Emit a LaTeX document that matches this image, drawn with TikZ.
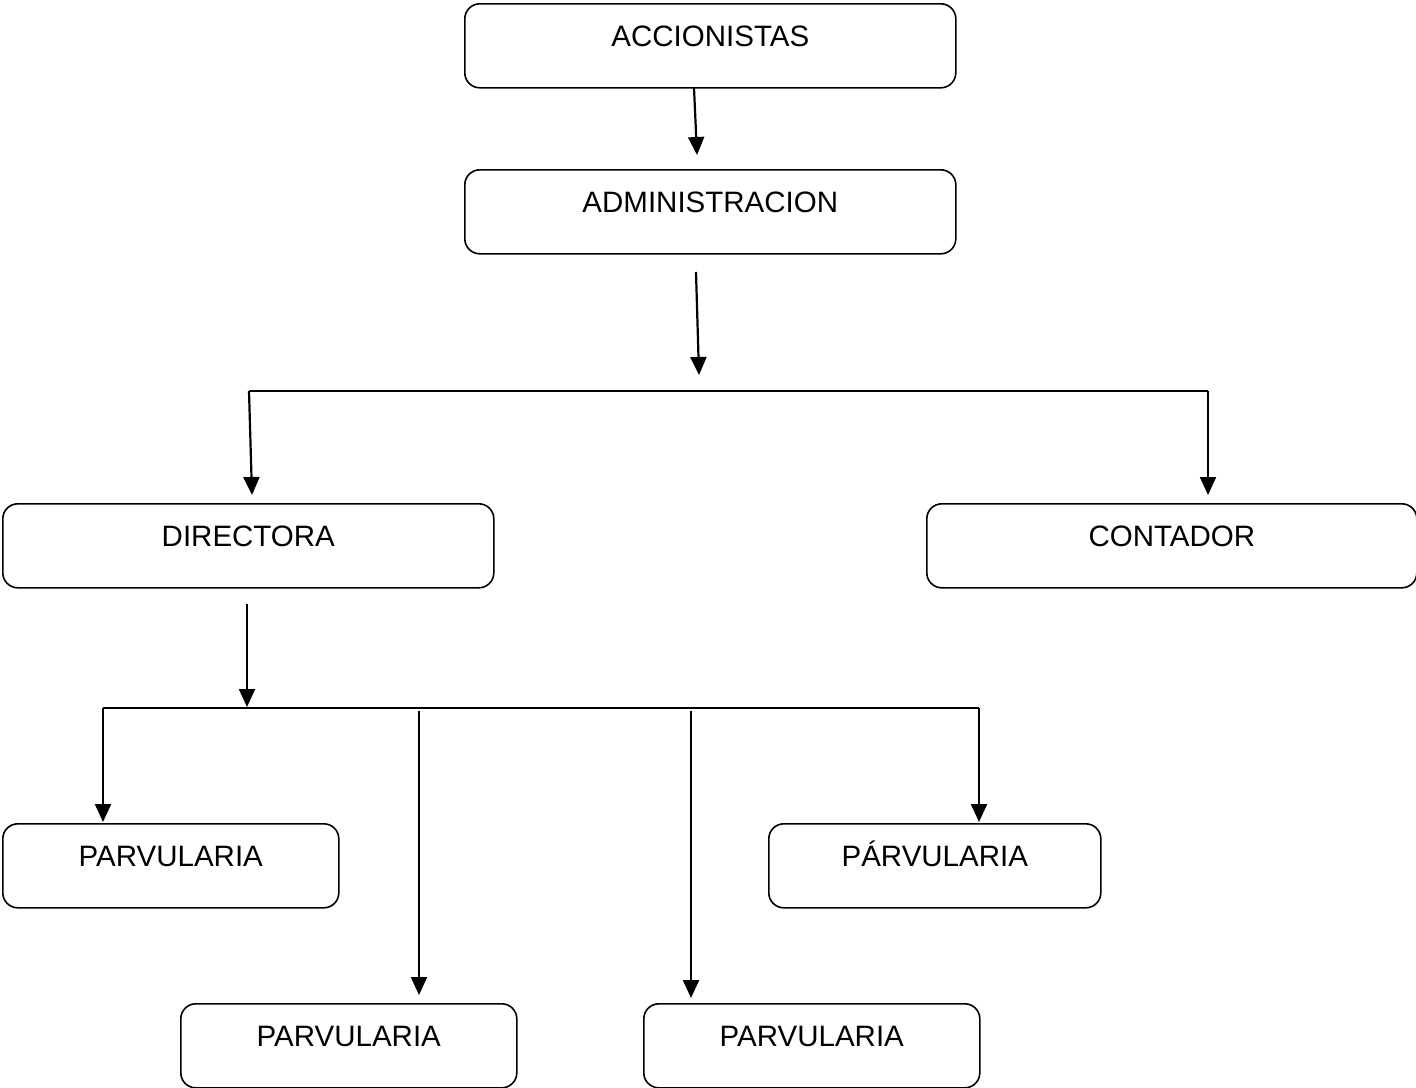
\documentclass[tikz,border=0pt]{standalone}
\usepackage{fontspec}
\setmainfont{Liberation Sans}
\usetikzlibrary{arrows.meta}
\begin{document}
\begin{tikzpicture}[x=1pt,y=-1pt,
  box/.style={draw, line width=1.6pt, rounded corners=15pt, anchor=north west,
    inner xsep=0pt, inner ysep=0pt, text height=43pt, text depth=41pt,
    align=center, font=\fontsize{29.5}{35}\selectfont},
  arr/.style={line width=2.2pt, -{Triangle[width=16pt,length=18pt]}},
  ln/.style={line width=2pt}]
\useasboundingbox (0,0) rectangle (1416,1087);
\node[box, minimum width=491pt] (acc) at (464,3) {ACCIONISTAS};
\node[box, minimum width=491pt] (adm) at (464,169) {ADMINISTRACION};
\node[box, minimum width=491pt] (dir) at (2,503) {DIRECTORA};
\node[box, minimum width=490pt] (con) at (926,503) {CONTADOR};
\node[box, minimum width=336pt] (p1) at (2,823) {PARVULARIA};
\node[box, minimum width=336pt] (p2) at (180,1003) {PARVULARIA};
\node[box, minimum width=336pt] (p3) at (643,1003) {PARVULARIA};
\node[box, minimum width=332pt] (p4) at (768,823) {PÁRVULARIA};
% connector points
\coordinate (a1s) at (694,88);  \coordinate (a1e) at (697,155);
\coordinate (a2s) at (696,272); \coordinate (a2e) at (699,375);
\coordinate (h1l) at (249,391); \coordinate (h1r) at (1208,391);
\coordinate (dirin) at (252,495); \coordinate (conin) at (1208,495);
\coordinate (a3s) at (247,604); \coordinate (a3e) at (247,707);
\coordinate (h2l) at (103,708); \coordinate (h2r) at (979,708);
\coordinate (p1in) at (103,822); \coordinate (p4in) at (979,822);
\coordinate (b2s) at (419,711); \coordinate (p2in) at (419,995);
\coordinate (b3s) at (691,711); \coordinate (p3in) at (691,998);
\draw[arr] (a1s) -- (a1e);
\draw[arr] (a2s) -- (a2e);
\draw[ln] (h1l) -- (h1r);
\draw[arr] (h1l) -- (dirin);
\draw[arr] (h1r) -- (conin);
\draw[arr] (a3s) -- (a3e);
\draw[ln] (h2l) -- (h2r);
\draw[arr] (h2l) -- (p1in);
\draw[arr] (h2r) -- (p4in);
\draw[arr] (b2s) -- (p2in);
\draw[arr] (b3s) -- (p3in);
\end{tikzpicture}
\end{document}
